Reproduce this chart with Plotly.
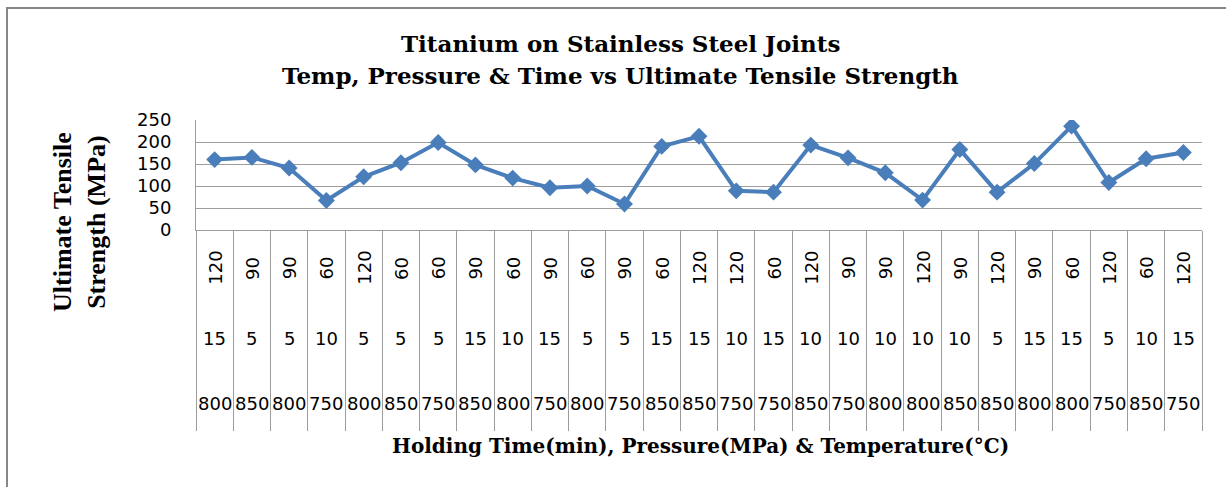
import plotly.graph_objects as go

# ---- data ----
hold_time = [120, 90, 90, 60, 120, 60, 60, 90, 60, 90, 60, 90, 60, 120, 120,
             60, 120, 90, 90, 120, 90, 120, 90, 60, 120, 60, 120]
pressure = [15, 5, 5, 10, 5, 5, 5, 15, 10, 15, 5, 5, 15, 15, 10,
            15, 10, 10, 10, 10, 10, 5, 15, 15, 5, 10, 15]
temperature = [800, 850, 800, 750, 800, 850, 750, 850, 800, 750, 800, 750, 850, 850, 750,
               750, 850, 750, 800, 800, 850, 850, 800, 800, 750, 850, 750]
uts = [160, 165, 141, 67, 121, 153, 199, 148, 118, 96, 100, 59, 190, 213, 89,
       86, 193, 164, 130, 68, 183, 86, 151, 236, 108, 162, 176]
y_ticks = [0, 50, 100, 150, 200, 250]

title_lines = ["Titanium on Stainless Steel Joints",
               "Temp, Pressure & Time vs Ultimate Tensile Strength"]
y_title = "Ultimate Tensile<br>Strength (MPa)"
x_title = "Holding Time(min), Pressure(MPa) & Temperature(°C)"

categories = [f"{t}|{p}|{c}" for t, p, c in zip(hold_time, pressure, temperature)]

# ---- layout geometry (pixels) ----
W, H = 1226, 487
PL, PR, PT, PB = 196, 1202, 120, 230
pw, ph = PR - PL, PB - PT


def px_x(x):
    return (x - PL) / pw


def px_y(y):
    return (PB - y) / ph


BLUE = "#4a7ebb"
GRID = "#9d9d9d"
SANS = "DejaVu Sans"
SERIF = "Liberation Serif"
TITLE_SERIF = "DejaVu Serif"

fig = go.Figure()
fig.add_trace(go.Scatter(
    x=categories, y=uts, mode="lines+markers",
    line=dict(color=BLUE, width=4),
    marker=dict(symbol="diamond", size=13, color=BLUE),
    showlegend=False, hoverinfo="skip",
))

annotations = []
for cat, t, p, c in zip(categories, hold_time, pressure, temperature):
    annotations.append(dict(x=cat, xref="x", y=px_y(268), yref="paper", text=str(t),
                            textangle=-90, showarrow=False, xanchor="center", yanchor="middle",
                            font=dict(family=SANS, size=18, color="#000")))
    annotations.append(dict(x=cat, xref="x", y=px_y(338), yref="paper", text=str(p),
                            showarrow=False, xanchor="center", yanchor="middle",
                            font=dict(family=SANS, size=18, color="#000")))
    annotations.append(dict(x=cat, xref="x", y=px_y(403), yref="paper", text=str(c),
                            showarrow=False, xanchor="center", yanchor="middle",
                            font=dict(family=SANS, size=18, color="#000")))

annotations.append(dict(x=px_x(620), y=px_y(43), xref="paper", yref="paper", text=title_lines[0],
                        showarrow=False, xanchor="center", yanchor="middle",
                        font=dict(family=TITLE_SERIF, size=23, color="#000", weight="bold")))
annotations.append(dict(x=px_x(620), y=px_y(75), xref="paper", yref="paper", text=title_lines[1],
                        showarrow=False, xanchor="center", yanchor="middle",
                        font=dict(family=TITLE_SERIF, size=23, color="#000", weight="bold")))
annotations.append(dict(x=px_x(79), y=px_y(222), xref="paper", yref="paper", text=y_title,
                        textangle=-90, showarrow=False, xanchor="center", yanchor="middle",
                        font=dict(family=SERIF, size=26, color="#000", weight="bold")))
annotations.append(dict(x=px_x(700), y=px_y(446), xref="paper", yref="paper", text=x_title,
                        showarrow=False, xanchor="center", yanchor="middle",
                        font=dict(family=TITLE_SERIF, size=20, color="#000", weight="bold")))

fig.update_layout(
    width=W, height=H, autosize=False,
    margin=dict(l=PL, r=W - PR, t=PT, b=H - PB, pad=0),
    paper_bgcolor="white", plot_bgcolor="white",
    xaxis=dict(type="category", categoryorder="array", categoryarray=categories,
               range=[-0.5, len(categories) - 0.5], showticklabels=False,
               ticks="outside", tickson="boundaries", ticklen=200, tickwidth=1, tickcolor=GRID,
               showgrid=False, showline=True, linecolor=GRID, linewidth=1, zeroline=False,
               fixedrange=True),
    yaxis=dict(range=[0, 250], tickvals=y_ticks, showgrid=True, gridcolor=GRID, gridwidth=1,
               showline=True, linecolor=GRID, linewidth=1, zeroline=False,
               ticks="", ticklabelstandoff=20,
               tickfont=dict(family=SANS, size=18, color="#000"), fixedrange=True),
    annotations=annotations,
    shapes=[dict(type="rect", xref="paper", yref="paper",
                 x0=px_x(7), x1=px_x(1250), y0=px_y(8), y1=px_y(510),
                 line=dict(color="#878787", width=2), fillcolor="rgba(0,0,0,0)", layer="below")],
)

fig.write_html("out.html")
